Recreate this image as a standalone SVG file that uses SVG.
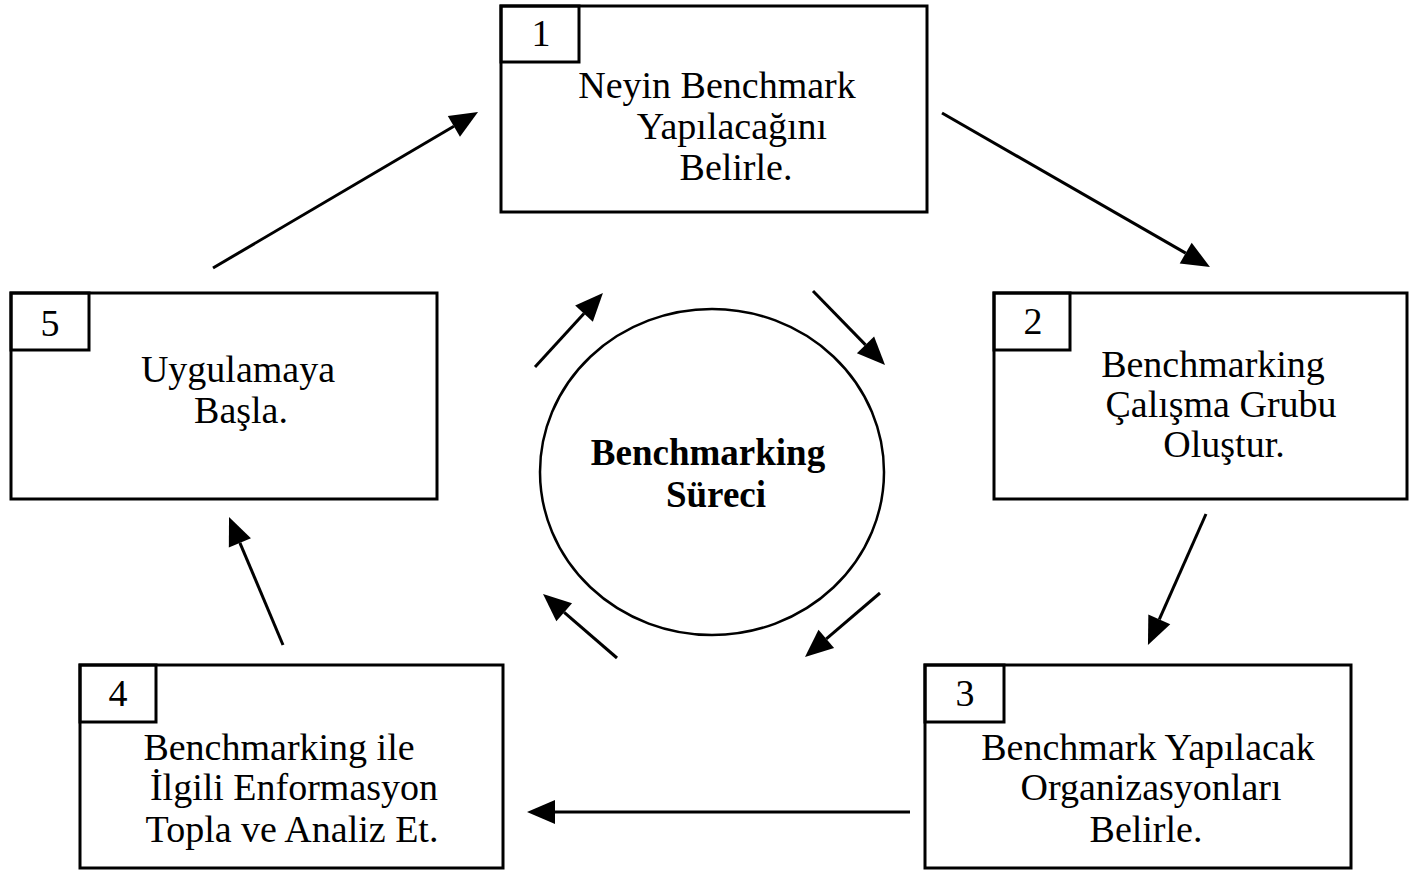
<svg xmlns="http://www.w3.org/2000/svg" width="1410" height="871" viewBox="0 0 1410 871">
<style>
.box{fill:none;stroke:#000;stroke-width:3}
.t{font-family:"Liberation Serif","Times New Roman",serif;font-size:38px;fill:#000;text-anchor:middle}
.b{font-weight:bold;font-size:37px}
.c{fill:none;stroke:#000;stroke-width:3}
</style>
<defs>
<marker id="ah" markerUnits="userSpaceOnUse" markerWidth="30" markerHeight="26" refX="0" refY="13" orient="auto" overflow="visible">
<path d="M0,1 L28,13 L0,25 Z" fill="#000"/>
</marker>
</defs>
<rect width="1410" height="871" fill="#fff"/>
<g id="node1">
<rect class="box" x="501" y="6" width="426" height="206"/>
<rect class="box" x="501" y="6" width="78" height="56"/>
<text class="t" x="541" y="46">1</text>
<text class="t" x="717" y="98">Neyin Benchmark</text>
<text class="t" x="732" y="139">Yapılacağını</text>
<text class="t" x="736" y="180">Belirle.</text>
</g>
<g id="node2">
<rect class="box" x="994" y="293" width="413" height="206"/>
<rect class="box" x="994" y="293" width="76" height="57"/>
<text class="t" x="1033" y="334">2</text>
<text class="t" x="1213" y="377">Benchmarking</text>
<text class="t" x="1221" y="417">Çalışma Grubu</text>
<text class="t" x="1224" y="457">Oluştur.</text>
</g>
<g id="node3">
<rect class="box" x="925" y="665" width="426" height="203"/>
<rect class="box" x="925" y="665" width="79" height="57"/>
<text class="t" x="965" y="706">3</text>
<text class="t" x="1148" y="760">Benchmark Yapılacak</text>
<text class="t" x="1151" y="800">Organizasyonları</text>
<text class="t" x="1146" y="842">Belirle.</text>
</g>
<g id="node4">
<rect class="box" x="80" y="665" width="423" height="203"/>
<rect class="box" x="80" y="665" width="76" height="57"/>
<text class="t" x="118" y="706">4</text>
<text class="t" x="279" y="760">Benchmarking ile</text>
<text class="t" x="294" y="800">İlgili Enformasyon</text>
<text class="t" x="292" y="842">Topla ve Analiz Et.</text>
</g>
<g id="node5">
<rect class="box" x="11" y="293" width="426" height="206"/>
<rect class="box" x="11" y="293" width="78" height="57"/>
<text class="t" x="50" y="336">5</text>
<text class="t" x="238" y="382">Uygulamaya</text>
<text class="t" x="241" y="423">Başla.</text>
</g>
<g id="center">
<ellipse cx="712" cy="472" rx="172" ry="163" fill="none" stroke="#000" stroke-width="2.5"/>
<text class="t b" x="708" y="465">Benchmarking</text>
<text class="t b" x="716" y="507">Süreci</text>
</g>
<g id="connectors">
<line class="c" x1="213" y1="268" x2="453.9" y2="126.3" marker-end="url(#ah)"/>
<line class="c" x1="942" y1="113" x2="1185.7" y2="253.1" marker-end="url(#ah)"/>
<line class="c" x1="1206" y1="514" x2="1159.3" y2="619.4" marker-end="url(#ah)"/>
<line class="c" x1="910" y1="812" x2="555" y2="812" marker-end="url(#ah)"/>
<line class="c" x1="283" y1="645" x2="239.9" y2="542.8" marker-end="url(#ah)"/>
<line class="c" x1="535" y1="367" x2="584" y2="313.6" marker-end="url(#ah)"/>
<line class="c" x1="813" y1="291" x2="865.5" y2="344.9" marker-end="url(#ah)"/>
<line class="c" x1="880" y1="593" x2="826.3" y2="638.8" marker-end="url(#ah)"/>
<line class="c" x1="617" y1="658" x2="564.2" y2="612.3" marker-end="url(#ah)"/>
</g>
</svg>
